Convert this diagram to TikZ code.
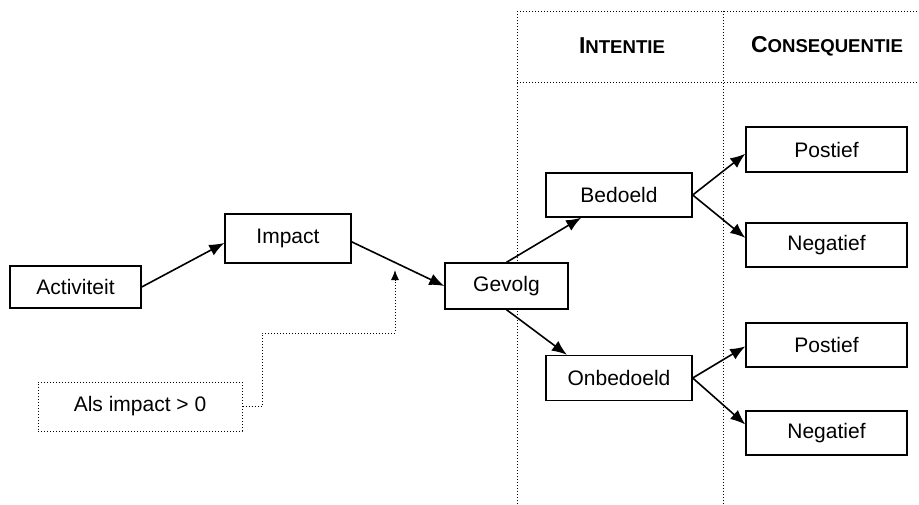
\documentclass[tikz,border=0pt]{standalone}
\usepackage{fontspec}
\setmainfont{Liberation Sans}
\usetikzlibrary{arrows.meta}

\newcommand{\sckop}[2]{\textbf{{\fontsize{23}{26}\selectfont #1}{\fontsize{18.6}{22}\selectfont #2}}}

\begin{document}
\begin{tikzpicture}[x=1pt,y=-1pt,
  box/.style={draw,fill=white,line width=1.4pt,inner sep=0pt,font=\fontsize{21}{25}\selectfont},
  condbox/.style={draw,dotted,fill=white,line width=1pt,inner sep=0pt,font=\fontsize{21}{25}\selectfont},
  pijl/.style={line width=1.6pt,-{Latex[length=15pt,width=12pt]}},
  stip/.style={dotted,line width=1pt,-{Latex[length=10pt,width=8pt]}},
  raster/.style={dotted,line width=1pt}]
\useasboundingbox (0,0) rectangle (919,504);

% kolommen
\draw[raster] (517,11) -- (919,11);
\draw[raster] (517,82) -- (919,82);
\draw[raster] (517,11) -- (517,504);
\draw[raster] (723,11) -- (723,504);
\node (intentie) at (622,46) {\sckop{I}{NTENTIE}};
\node (consequentie) at (827,46) {\sckop{C}{ONSEQUENTIE}};

% knopen
\node[box,minimum width=131pt,minimum height=42pt] (activiteit) at (75.5,287) {Activiteit};
\node[box,minimum width=126pt,minimum height=49pt] (impact) at (288,238.5) {Impact};
\node[box,minimum width=123pt,minimum height=46pt] (gevolg) at (506.5,286) {Gevolg};
\node[box,minimum width=146pt,minimum height=44pt] (bedoeld) at (619,195) {Bedoeld};
\node[box,minimum width=146pt,minimum height=45pt] (onbedoeld) at (619,378) {Onbedoeld};
\node[box,minimum width=161pt,minimum height=45pt] (postief1) at (826.5,149.5) {Postief};
\node[box,minimum width=161pt,minimum height=44pt] (negatief1) at (826.5,245) {Negatief};
\node[box,minimum width=161pt,minimum height=44pt] (postief2) at (826.5,345) {Postief};
\node[box,minimum width=161pt,minimum height=44pt] (negatief2) at (826.5,433) {Negatief};
\node[condbox,minimum width=204pt,minimum height=49pt] (als) at (140,406.5) {Als impact > 0};

% verbindingen
\draw[pijl] (activiteit.east) -- (impact.184);
\draw[pijl] (impact.357) -- (gevolg.west);
\draw[pijl] (gevolg.north) -- (bedoeld.211);
\draw[pijl] (gevolg.south) -- (onbedoeld.156);
\draw[pijl] (bedoeld.east) -- (postief1.183);
\draw[pijl] (bedoeld.east) -- (negatief1.175);
\draw[pijl] (onbedoeld.east) -- (postief2.181);
\draw[pijl] (onbedoeld.east) -- (negatief2.174);

\coordinate (knik) at (262,333);
\coordinate (doel) at (395,270);
\draw[stip] (als.east) -| (knik) -| (doel);
\end{tikzpicture}
\end{document}
